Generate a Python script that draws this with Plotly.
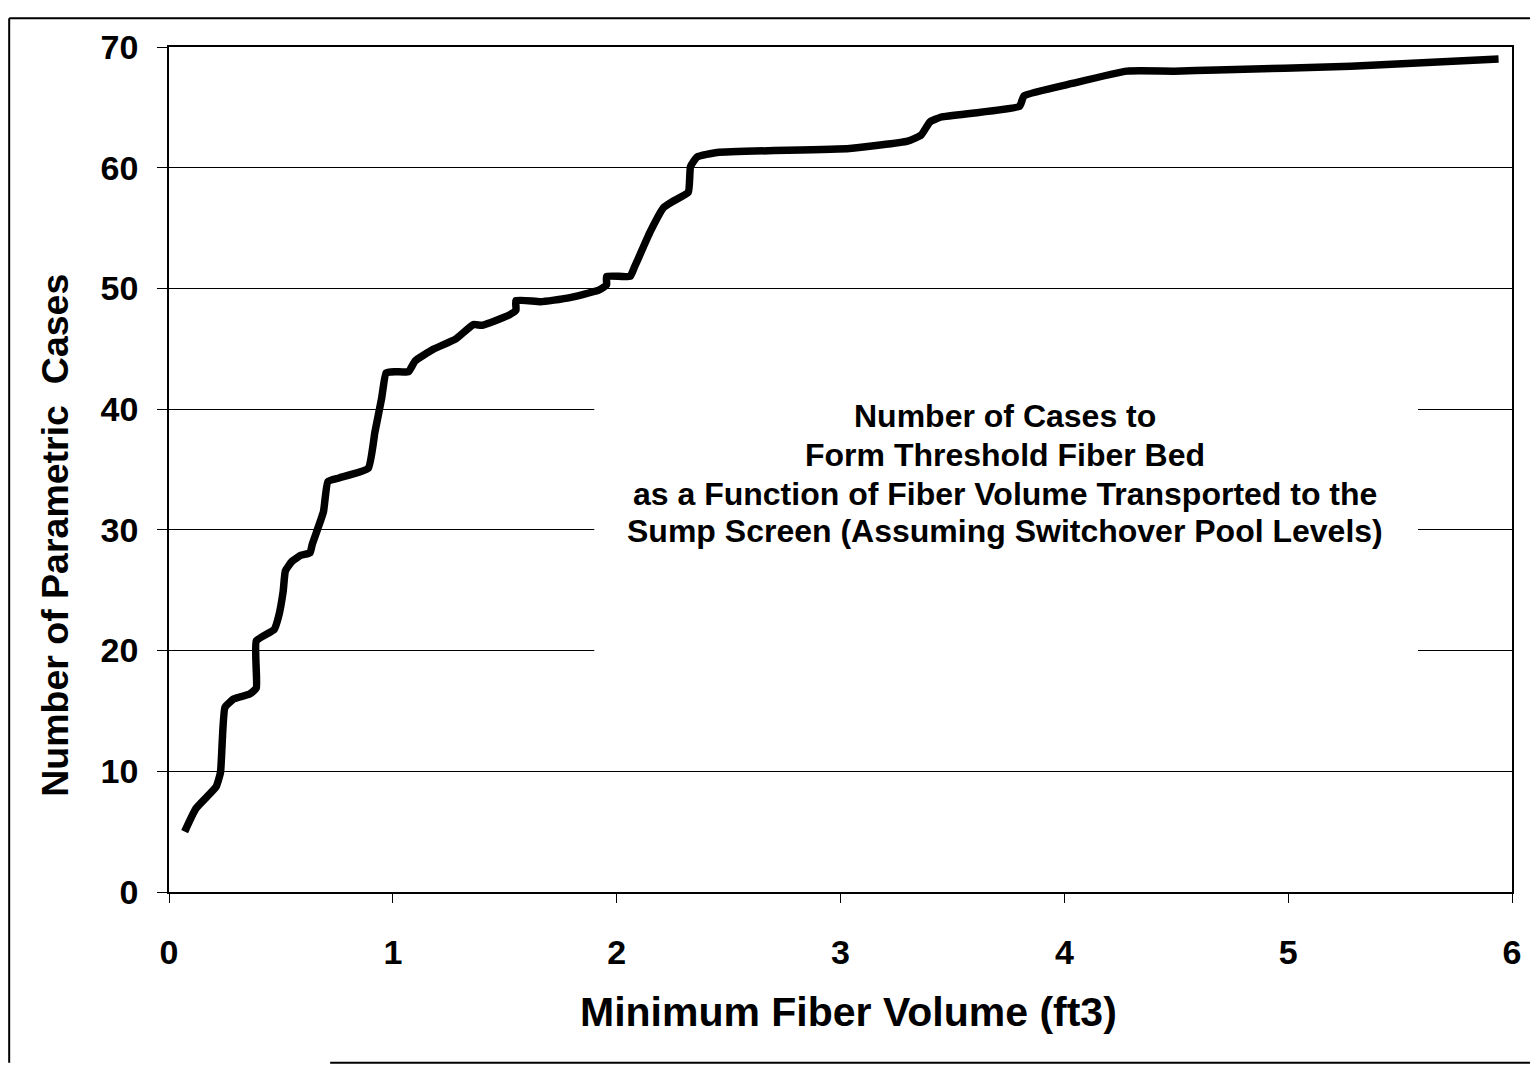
import plotly.graph_objects as go

# Minimum fiber volume (ft3) vs number of parametric cases
fiber_volume = [0.07, 0.12, 0.21, 0.23, 0.25, 0.29, 0.36, 0.39, 0.39, 0.47, 0.49, 0.51, 0.52, 0.55,
                0.59, 0.63, 0.64, 0.69, 0.71, 0.76, 0.89, 0.92, 0.95, 0.97, 1.01, 1.07, 1.10, 1.18,
                1.28, 1.36, 1.40, 1.52, 1.55, 1.55, 1.66, 1.78, 1.92, 1.955, 1.955, 2.06, 2.08, 2.09,
                2.15, 2.21, 2.25, 2.32, 2.33, 2.36, 2.45, 3.04, 3.30, 3.36, 3.40, 3.45, 3.80, 3.82,
                4.04, 4.28, 4.49, 4.68, 5.28, 5.94]
num_cases = [5.0, 6.9, 8.7, 9.9, 15.3, 16.0, 16.4, 16.9, 20.8, 21.75, 22.85, 24.9, 26.6, 27.4,
             27.9, 28.1, 28.8, 31.5, 34.0, 34.3, 35.1, 38.1, 40.9, 43.0, 43.1, 43.1, 44.0, 44.95,
             45.8, 47.0, 46.95, 47.8, 48.2, 49.0, 48.9, 49.2, 49.86, 50.3, 51.0, 51.0, 51.8, 52.2,
             54.7, 56.7, 57.2, 57.96, 60.1, 60.9, 61.26, 61.6, 62.2, 62.7, 63.8, 64.2, 65.1, 65.96,
             67.0, 68.0, 68.0, 68.1, 68.4, 69.0]

x_ticks = [0, 1, 2, 3, 4, 5, 6]
y_ticks = [0, 10, 20, 30, 40, 50, 60, 70]

x_title = "Minimum Fiber Volume (ft3)"
y_title = "Number of Parametric\u00a0 Cases"

note_lines = ["Number of Cases to",
              "Form Threshold Fiber Bed",
              "as a Function of Fiber Volume Transported to the",
              "Sump Screen (Assuming Switchover Pool Levels)"]
note_y = [39.4, 36.2, 33.0, 29.9]

FONT = "Liberation Sans, Arial, Helvetica, sans-serif"

fig = go.Figure()
fig.add_trace(go.Scatter(
    x=fiber_volume, y=num_cases, mode="lines",
    line=dict(color="black", width=7.5, shape="spline", smoothing=0.4),
    showlegend=False, hoverinfo="x+y"))

fig.update_layout(
    width=1538, height=1070,
    margin=dict(l=161, r=34, t=39, b=186),
    paper_bgcolor="white", plot_bgcolor="white",
    font=dict(family=FONT, color="black", size=34, weight="bold"),
    showlegend=False,
)

fig.update_xaxes(
    range=[0, 6], tickvals=x_ticks, ticktext=[str(v) for v in x_ticks],
    showgrid=False, zeroline=False,
    showline=True, linecolor="black", linewidth=1.5, mirror=True,
    ticks="outside", ticklen=9, tickwidth=1, tickcolor="black",
    ticklabelstandoff=20,
    tickfont=dict(family=FONT, size=34, weight="bold"),
)
fig.update_yaxes(
    range=[0, 70], tickvals=y_ticks, ticktext=[str(v) for v in y_ticks],
    showgrid=True, gridcolor="black", gridwidth=1, zeroline=False,
    showline=True, linecolor="black", linewidth=1.5, mirror=True,
    ticks="outside", ticklen=10, tickwidth=1, tickcolor="black",
    ticklabelstandoff=12,
    tickfont=dict(family=FONT, size=34, weight="bold"),
)

# axis titles (placed as in the original layout)
fig.add_annotation(x=0.506, y=-0.142, xref="paper", yref="paper", text=x_title,
                   showarrow=False, xanchor="center", yanchor="middle",
                   font=dict(family=FONT, size=41, weight="bold", color="black"))
fig.add_annotation(x=-0.085, y=0.4225, xref="paper", yref="paper", text=y_title,
                   showarrow=False, xanchor="center", yanchor="middle", textangle=-90,
                   font=dict(family=FONT, size=37.5, weight="bold", color="black"))

# white box behind the note (interrupts gridlines)
fig.add_shape(type="rect", xref="x", yref="y", x0=1.90, x1=5.58, y0=14, y1=46,
              fillcolor="white", line=dict(width=0), layer="between")

for txt, yv in zip(note_lines, note_y):
    fig.add_annotation(x=3.735, y=yv, xref="x", yref="y", text=txt, showarrow=False,
                       xanchor="center", yanchor="middle",
                       font=dict(family=FONT, size=32, weight="bold", color="black"))

# outer frame of the figure
fig.add_shape(type="line", xref="paper", yref="paper", x0=-0.119, x1=-0.119, y0=-0.202, y1=1.034,
              line=dict(color="black", width=2))
fig.add_shape(type="line", xref="paper", yref="paper", x0=-0.119, x1=1.04, y0=1.034, y1=1.034,
              line=dict(color="black", width=2))
fig.add_shape(type="line", xref="paper", yref="paper", x0=0.12, x1=1.04, y0=-0.202, y1=-0.202,
              line=dict(color="black", width=2))

fig.write_html("out.html")
